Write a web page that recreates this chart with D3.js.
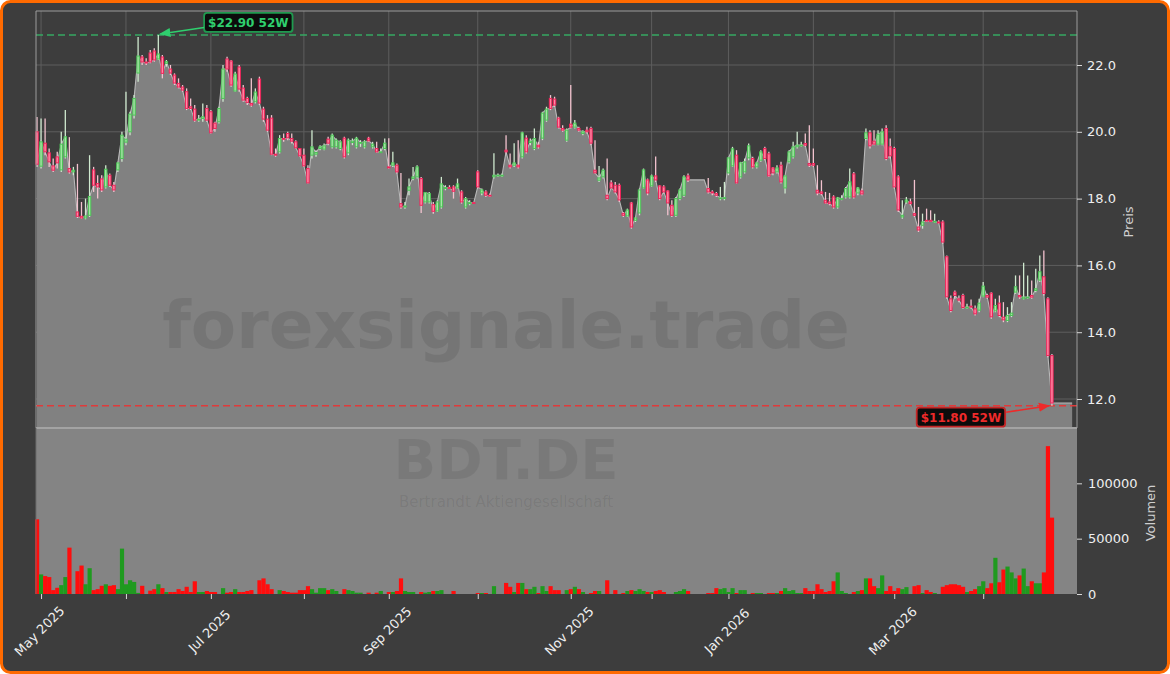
<!DOCTYPE html>
<html><head><meta charset="utf-8">
<script src="https://cdn.jsdelivr.net/npm/d3@7/dist/d3.min.js"></script>
<style>
html,body{margin:0;padding:0;background:#ffffff;}
svg{display:block;font-family:"DejaVu Sans",Verdana,sans-serif;}
</style></head><body>
<svg id="chart" width="1170" height="674"></svg>
<script>
// ---------------- DATA ----------------
const startDate = "2025-04-30";
const holidays = ["2025-05-01","2025-12-24","2025-12-25","2025-12-26","2025-12-31","2026-01-01","2026-04-03","2026-04-06"];
const monthLabels = ["May 2025","Jul 2025","Sep 2025","Nov 2025","Jan 2026","Mar 2026"];
const priceTicks = [12,14,16,18,20,22];
const volumeTicks = [0,50000,100000];
const watermark = "forexsignale.trade";
const tickerName = "BDT.DE";
const companyName = "Bertrandt Aktiengesellschaft";

const openP = [
20.00,18.97,19.66,19.37,18.98,19.25,18.86,19.25,18.90,18.80,
17.60,17.47,17.42,17.50,18.86,18.45,18.59,18.35,18.70,18.40,
18.86,19.20,19.69,20.00,20.50,21.76,22.24,22.09,22.36,22.42,
22.18,22.24,22.05,21.88,21.70,21.45,21.34,21.20,20.75,20.68,
20.35,20.40,20.70,20.60,20.26,20.30,21.00,22.18,22.12,21.22,
21.94,21.31,21.00,20.85,20.90,21.58,20.68,20.38,20.41,19.33,
19.40,19.80,19.95,19.80,19.70,19.50,19.30,18.90,19.30,19.33,
19.50,19.48,19.78,19.55,19.55,19.50,19.81,19.37,19.68,19.55,
19.66,19.55,19.81,19.55,19.50,19.40,19.50,18.95,19.00,19.00,
17.85,17.75,18.25,18.60,18.65,18.60,17.90,17.90,17.82,17.63,
17.75,18.30,18.33,18.35,18.32,18.20,17.75,17.85,17.88,18.80,
18.17,18.20,18.10,18.65,18.70,18.70,19.45,19.00,19.00,19.00,
19.25,19.81,19.68,19.50,19.60,19.81,20.35,21.00,20.98,20.41,
20.10,19.75,20.23,20.14,20.10,19.95,20.05,20.10,18.85,18.55,
18.65,18.10,18.47,18.40,18.40,17.56,17.48,17.87,17.35,17.57,
18.32,18.56,18.38,18.68,18.38,18.35,18.23,17.80,17.50,18.00,
18.10,18.68,18.56,18.56,18.56,18.56,18.30,18.20,18.15,18.00,
18.00,18.77,18.98,19.30,18.65,18.80,19.22,19.20,18.95,19.15,
19.50,19.34,18.92,18.80,19.00,18.32,19.10,19.25,19.55,19.60,
19.65,19.05,19.05,18.25,18.20,17.95,17.90,18.05,17.75,18.00,
18.05,18.05,18.74,18.17,18.23,19.80,19.97,19.72,19.63,19.63,
20.10,19.55,19.50,18.65,17.45,17.90,17.90,17.55,17.15,17.20,
17.35,17.35,17.30,17.30,17.30,16.26,15.00,15.20,15.00,15.10,
14.75,14.78,14.70,14.66,15.08,15.10,15.17,14.64,14.87,14.45,
14.35,14.50,15.20,15.10,15.00,15.05,15.10,15.25,15.56,15.66,
15.00,13.30];

const highP = [
20.44,20.40,20.40,19.50,19.20,19.40,20.00,20.65,19.84,18.95,
19.04,17.90,18.00,19.30,18.95,18.70,18.70,19.00,18.75,18.50,
19.10,20.00,21.20,20.60,21.10,22.84,22.30,22.20,22.45,22.50,
22.90,22.30,22.15,22.00,21.75,21.60,21.40,21.30,21.00,20.80,
20.50,20.85,20.80,20.65,20.30,20.75,22.00,22.25,22.15,21.80,
22.00,21.40,21.05,21.60,21.30,21.65,20.75,20.50,20.50,19.50,
19.90,19.95,20.00,19.95,19.75,19.50,19.50,19.00,20.05,19.45,
19.60,19.65,19.85,19.95,19.80,19.75,19.85,19.80,19.80,19.85,
19.75,19.75,19.85,19.70,19.70,19.50,19.80,19.81,19.40,19.05,
18.77,17.90,18.60,18.95,19.00,18.65,18.20,18.20,17.90,17.95,
18.65,18.40,18.40,18.40,18.60,18.25,18.05,17.95,17.90,18.85,
18.30,18.25,18.15,19.36,18.75,18.75,19.90,19.35,19.66,19.75,
20.00,19.90,19.80,20.10,19.70,20.60,20.75,21.10,21.05,20.45,
20.20,20.10,21.40,20.35,20.15,20.05,20.15,20.15,19.75,18.98,
18.90,19.20,18.55,18.50,18.45,17.60,17.70,17.90,17.45,18.30,
18.90,18.60,18.72,19.26,18.40,18.40,18.25,17.95,18.05,18.30,
18.70,18.75,18.56,18.56,18.56,18.56,18.62,18.25,18.20,18.35,
18.50,19.25,19.55,19.45,19.10,19.20,19.65,19.25,19.10,19.45,
19.55,19.40,18.95,19.00,19.10,18.70,19.45,19.70,20.00,19.70,
19.95,20.20,19.50,19.00,18.55,18.20,18.17,18.10,18.05,18.10,
18.35,18.90,18.80,18.35,18.30,20.10,20.05,20.05,20.05,20.10,
20.20,19.80,19.55,18.70,17.95,18.05,18.00,18.56,17.75,17.55,
17.70,17.65,17.55,17.35,17.35,16.30,15.10,15.25,15.10,15.15,
14.85,14.98,14.80,15.00,15.50,15.15,15.20,15.00,15.10,14.90,
14.75,14.90,15.70,15.70,16.08,15.70,15.55,15.90,16.30,16.45,
15.05,13.35];

const lowP = [
18.95,18.90,19.30,18.95,18.80,18.90,18.80,19.20,18.75,18.70,
17.42,17.40,17.38,17.45,18.20,18.00,18.20,18.30,18.35,18.20,
18.80,19.10,19.60,19.90,20.40,21.50,22.00,22.00,22.05,22.10,
22.15,21.60,21.95,21.70,21.40,21.30,21.20,20.65,20.65,20.30,
20.30,20.30,20.30,19.95,20.00,20.25,20.90,21.80,21.35,21.20,
21.20,20.90,20.80,20.75,20.85,20.80,20.30,20.00,19.30,19.25,
19.35,19.70,19.75,19.65,19.50,19.25,18.95,18.45,19.20,19.25,
19.45,19.45,19.60,19.50,19.50,19.45,19.20,19.30,19.60,19.50,
19.55,19.50,19.70,19.50,19.38,19.38,19.45,18.90,18.95,18.75,
17.70,17.70,18.10,18.55,18.60,17.57,17.85,17.85,17.55,17.60,
17.70,18.25,18.30,18.00,18.30,17.85,17.70,17.80,17.85,18.30,
18.10,18.05,18.05,18.60,18.65,18.65,19.35,18.90,18.95,18.90,
19.20,19.35,19.60,19.45,19.50,19.75,20.30,20.65,20.75,20.10,
20.00,19.70,20.10,20.10,20.00,19.90,19.95,19.60,18.75,18.50,
18.60,17.95,18.30,18.15,17.90,17.45,17.45,17.10,17.30,17.50,
18.30,18.10,18.35,18.50,17.95,18.15,17.50,17.45,17.45,17.95,
18.05,18.50,18.56,18.56,18.56,18.56,18.15,18.10,18.05,17.95,
17.95,18.70,18.95,18.45,18.60,18.75,19.15,18.90,18.90,19.10,
19.15,18.65,18.70,18.75,18.45,18.15,19.05,19.20,19.50,19.55,
19.55,18.95,18.95,18.10,18.10,17.85,17.80,17.70,17.70,17.95,
18.00,18.00,18.00,18.10,18.10,19.75,19.50,19.60,19.60,19.60,
19.15,19.20,18.30,17.60,17.40,17.85,17.80,17.45,17.00,17.10,
17.30,17.30,17.28,17.25,16.65,15.00,14.60,15.00,14.90,14.70,
14.70,14.70,14.50,14.60,15.05,15.00,14.40,14.60,14.45,14.30,
14.30,14.45,15.15,15.00,14.98,15.00,15.00,15.20,15.50,15.10,
13.25,11.80];

const closeP = [
19.03,19.70,19.40,19.10,18.85,19.07,19.63,19.85,18.80,18.85,
17.47,17.42,17.48,18.06,18.40,18.35,18.26,18.88,18.40,18.26,
19.07,19.90,19.78,20.53,21.00,22.27,22.09,22.06,22.09,22.15,
22.33,21.75,22.10,21.76,21.46,21.34,21.25,20.70,20.70,20.35,
20.38,20.45,20.35,19.97,20.10,20.70,21.88,21.88,21.40,21.73,
21.28,20.95,20.88,20.80,21.19,20.86,20.38,20.05,19.33,19.30,
19.80,19.78,19.82,19.72,19.52,19.28,18.98,18.47,19.55,19.38,
19.55,19.58,19.66,19.90,19.75,19.70,19.25,19.75,19.72,19.81,
19.68,19.70,19.73,19.63,19.40,19.40,19.66,18.92,19.07,18.80,
17.75,17.78,18.35,18.65,18.95,17.80,18.18,18.15,17.62,17.90,
18.44,18.33,18.32,18.22,18.44,17.90,18.00,17.88,17.87,18.35,
18.26,18.10,18.08,18.70,18.70,18.70,19.40,18.95,19.07,18.95,
19.97,19.40,19.72,19.80,19.55,20.56,20.68,20.70,20.80,20.14,
20.05,20.05,20.14,20.26,20.05,20.00,20.00,19.66,18.77,18.62,
18.85,18.00,18.32,18.20,17.96,17.50,17.66,17.15,17.42,18.26,
18.86,18.17,18.68,18.56,18.00,18.20,17.87,17.50,18.00,18.26,
18.65,18.56,18.56,18.56,18.56,18.56,18.20,18.17,18.10,18.02,
18.03,19.22,19.49,18.47,19.07,19.10,19.58,18.95,19.07,19.40,
19.20,18.68,18.77,18.92,18.50,18.68,19.40,19.55,19.60,19.60,
19.60,19.00,19.00,18.17,18.15,17.87,17.85,17.75,18.02,18.00,
18.30,18.50,18.05,18.32,18.14,19.97,19.58,19.63,19.93,20.00,
19.20,19.28,18.35,17.66,17.50,17.96,17.85,17.50,17.06,17.30,
17.33,17.32,17.32,17.27,16.70,15.06,14.65,15.10,14.96,14.74,
14.75,14.75,14.55,14.87,15.38,15.05,14.46,14.80,14.50,14.37,
14.50,14.57,15.36,15.06,15.05,15.05,15.05,15.30,15.81,15.16,
13.30,11.88];

const volume = [
67500,17700,16200,15300,3500,5600,8000,15300,41900,0,
20600,25700,8800,23300,3500,4400,7400,8800,7400,8000,
4400,41000,8800,12400,10900,1000,7400,0,3000,4400,
8800,5300,1800,1800,1800,4400,2700,6500,1800,11500,
1800,1800,2700,1800,1800,0,5300,1200,1800,4400,
1800,1800,2700,3500,0,12400,14100,8800,4400,0,
3500,2700,1800,1200,1200,3500,3500,7100,4400,1200,
5300,5300,3500,4400,2700,0,4400,3500,2700,1200,
1200,0,1200,0,1200,2700,0,1800,1800,2700,
14100,2700,1800,1800,0,1800,1200,1800,2700,2700,
3500,0,0,2700,0,0,0,0,0,900,
900,900,0,7100,0,0,10000,6500,1800,10000,
10000,4400,4400,6500,900,7100,2700,7100,3500,3500,
0,3500,4400,6500,4400,1800,0,900,2700,2700,
0,12400,0,3500,0,900,2700,3500,2700,4400,
2700,1800,1800,2700,3500,1800,0,0,1800,2700,
4400,2700,0,0,0,0,900,900,5300,4400,
5300,1800,5300,900,3500,3500,0,900,900,900,
0,900,900,900,2700,5300,2700,3500,900,900,
5300,2700,2700,8800,4400,1800,2700,11500,19500,2700,
900,0,1800,2700,3500,14100,14100,7100,5300,16800,
2700,7100,2700,5300,4400,6200,0,7100,8000,900,
3500,1800,900,0,6500,8000,8800,8800,8000,6500,
1800,2700,4400,7100,11500,5300,9700,32700,10600,22100,
24800,19500,14100,16800,23000,7100,11500,9700,9700,19500,
133600,69000];

// ---------------- CALENDAR ----------------
const N = closeP.length;
const fmtDay = d3.timeFormat("%Y-%m-%d");
const fmtMonth = d3.timeFormat("%b %Y");
function tradingDays(start, n, hol) {
  const set = new Set(hol);
  const out = [];
  const d = new Date(start + "T12:00:00");
  while (out.length < n) {
    const wd = d.getDay();
    if (wd !== 0 && wd !== 6 && !set.has(fmtDay(d))) out.push(new Date(d));
    d.setDate(d.getDate() + 1);
  }
  return out;
}
const dates = tradingDays(startDate, N, holidays);
const monthStarts = [];
for (let i = 1; i < N; i++) if (dates[i].getMonth() !== dates[i-1].getMonth()) monthStarts.push(i);

// ---------------- LAYOUT ----------------
const W = 1170, H = 674;
const L = 36, R = 1077, pTop = 11, pBot = 428, vBot = 594;
const svg = d3.select("#chart");

const x = d3.scaleLinear().domain([-0.25, N + 5.2]).range([L, R]);
const yP = d3.scaleLinear().domain([11.132, 23.617]).range([pBot, pTop]);
const yV = d3.scaleLinear().domain([0, 150000]).range([vBot, pBot]);
const step = x(1) - x(0);

const high52 = d3.max(highP), low52 = d3.min(lowP);
const iHigh = highP.indexOf(high52), iLow = lowP.indexOf(low52);

// background + orange frame
svg.append("rect").attr("x",1.5).attr("y",1.5).attr("width",W-3).attr("height",H-3)
  .attr("rx",9).attr("fill","#3d3d3d").attr("stroke","#ff6a00").attr("stroke-width",3);

// grid (price panel)
const grid = svg.append("g");
grid.selectAll(".hg").data(priceTicks).join("line")
  .attr("x1",L).attr("x2",R).attr("y1",d=>yP(d)).attr("y2",d=>yP(d))
  .attr("stroke","#5e5e5e").attr("stroke-width",1);
grid.selectAll(".vg").data(monthStarts).join("line")
  .attr("x1",d=>x(d)).attr("x2",d=>x(d)).attr("y1",pTop).attr("y2",pBot)
  .attr("stroke","#5e5e5e").attr("stroke-width",1);

// area under close
const areaPts = closeP.map((c,i)=>[i,c]).concat([[N+4, closeP[N-1]]]);
svg.append("path").datum(areaPts)
  .attr("d", d3.area().x(d=>x(d[0])).y0(pBot).y1(d=>yP(d[1])))
  .attr("fill","#818181");
svg.append("path").datum(areaPts)
  .attr("d", d3.line().x(d=>x(d[0])).y(d=>yP(d[1])))
  .attr("fill","none").attr("stroke","#b9b9b9").attr("stroke-width",1.1);

// volume panel background
svg.append("rect").attr("x",L).attr("y",pBot).attr("width",R-L).attr("height",vBot-pBot).attr("fill","#848484");

// watermarks
svg.append("text").attr("x",506).attr("y",348).attr("text-anchor","middle")
  .attr("font-size",66).attr("font-weight","bold").attr("fill","#000").attr("fill-opacity",0.09).text(watermark);
svg.append("text").attr("x",506).attr("y",479).attr("text-anchor","middle")
  .attr("font-size",56).attr("font-weight","bold").attr("fill","#000").attr("fill-opacity",0.08).text(tickerName);
svg.append("text").attr("x",506).attr("y",507).attr("text-anchor","middle")
  .attr("font-size",15).attr("fill","#000").attr("fill-opacity",0.08).text(companyName);

// 52W lines
svg.append("line").attr("x1",L).attr("x2",R).attr("y1",yP(high52)).attr("y2",yP(high52))
  .attr("stroke","#36a862").attr("stroke-width",1.6).attr("stroke-dasharray","7,4");
svg.append("line").attr("x1",L).attr("x2",R).attr("y1",yP(low52)).attr("y2",yP(low52))
  .attr("stroke","#e03a3a").attr("stroke-width",1.6).attr("stroke-dasharray","7,4");

// candles
const idx = d3.range(N);
const up = i => closeP[i] >= openP[i];
const cg = svg.append("g");
cg.selectAll(".wick").data(idx).join("line")
  .attr("x1",i=>x(i)).attr("x2",i=>x(i))
  .attr("y1",i=>yP(highP[i])).attr("y2",i=>yP(lowP[i]))
  .attr("stroke",i=>up(i)?"#cfe9cf":"#f3c3cf").attr("stroke-width",1.3);
cg.selectAll(".body").data(idx.filter(i=>highP[i]!==lowP[i])).join("rect")
  .attr("x",i=>x(i)-1.2).attr("width",2.4)
  .attr("y",i=>yP(Math.max(openP[i],closeP[i])))
  .attr("height",i=>Math.max(0.8, yP(Math.min(openP[i],closeP[i])) - yP(Math.max(openP[i],closeP[i]))))
  .attr("fill",i=>up(i)?"#a6e4a6":"#ff8aa6")
  .attr("stroke",i=>up(i)?"#4cc456":"#f0245a").attr("stroke-width",1);

// volume bars
svg.append("g").selectAll("rect").data(idx.filter(i=>volume[i]>0)).join("rect")
  .attr("x",i=>x(i)-step/2).attr("width",step+0.15)
  .attr("y",i=>yV(volume[i])).attr("height",i=>vBot-yV(volume[i]))
  .attr("fill",i=>up(i)?"#1f9a1f":"#ff0d0d");

// separator and spines
svg.append("line").attr("x1",L).attr("x2",R).attr("y1",pBot).attr("y2",pBot).attr("stroke","#a3a3a3").attr("stroke-width",2);
svg.append("path").attr("d",`M${L},${pBot}V${pTop}H${R}V${pBot}`).attr("fill","none").attr("stroke","#9c9c9c").attr("stroke-width",1);
svg.append("line").attr("x1",L).attr("x2",L).attr("y1",pBot).attr("y2",vBot).attr("stroke","#6c6c6c").attr("stroke-width",1);

// axes
function styleAxis(g) {
  g.select(".domain").remove();
  g.selectAll(".tick line").attr("stroke","#d8d8d8").attr("stroke-width",1);
  g.selectAll(".tick text").attr("fill","#efefef").attr("font-size",13).attr("font-family","DejaVu Sans, sans-serif");
}
const axP = svg.append("g").attr("transform",`translate(${R},0)`)
  .call(d3.axisRight(yP).tickValues(priceTicks).tickFormat(d3.format(".1f")).tickSize(5).tickPadding(5));
styleAxis(axP);
const axV = svg.append("g").attr("transform",`translate(${R},0)`)
  .call(d3.axisRight(yV).tickValues(volumeTicks).tickFormat(d3.format("d")).tickSize(5).tickPadding(6));
styleAxis(axV);
const axX = svg.append("g").attr("transform",`translate(0,${vBot})`)
  .call(d3.axisBottom(x).tickValues(monthStarts)
    .tickFormat(i => { const s = fmtMonth(dates[i]); return monthLabels.includes(s) ? s : ""; })
    .tickSize(5));
styleAxis(axX);
axX.selectAll(".tick text").attr("y",0).attr("dy","0.35em").attr("text-anchor","middle")
  .attr("transform","translate(-2,37) rotate(-45)");

// axis titles
svg.append("text").attr("transform","translate(1133,222) rotate(-90)").attr("text-anchor","middle")
  .attr("font-size",13).attr("fill","#cfcfcf").text("Preis");
svg.append("text").attr("transform","translate(1155,513) rotate(-90)").attr("text-anchor","middle")
  .attr("font-size",13).attr("fill","#cfcfcf").text("Volumen");

// annotations
svg.append("defs").html(`
<marker id="ahG" viewBox="0 0 10 10" refX="9" refY="5" markerWidth="7" markerHeight="7" orient="auto"><path d="M0,1L10,5L0,9z" fill="#2fcf6e"/></marker>
<marker id="ahR" viewBox="0 0 10 10" refX="9" refY="5" markerWidth="7" markerHeight="7" orient="auto"><path d="M0,1L10,5L0,9z" fill="#ee2a2a"/></marker>`);

function annotate(px, py, cx, cy, label, txtCol, edgeCol, marker, fromLeft) {
  const g = svg.append("g");
  const t = g.append("text").attr("x",cx).attr("y",cy).attr("text-anchor","middle").attr("dy","0.36em")
    .attr("font-size",12).attr("font-weight","bold").attr("fill",txtCol).text(label);
  const bb = t.node().getBBox();
  const bx = bb.x - 4, by = cy - 9.5, bw = bb.width + 8, bh = 19;
  g.insert("rect","text").attr("x",bx).attr("y",by).attr("width",bw).attr("height",bh).attr("rx",3)
    .attr("fill","#0c0c0c").attr("stroke",edgeCol).attr("stroke-width",1.8);
  const sx = fromLeft ? bx : bx + bw + 1;
  const sy = fromLeft ? cy + 5 : cy - 5;
  svg.append("line").attr("x1",sx).attr("y1",sy).attr("x2",px).attr("y2",py)
    .attr("stroke",txtCol).attr("stroke-width",1.6).attr("marker-end",`url(#${marker})`);
}
annotate(x(iHigh)+2, yP(high52)-1, x(iHigh)+90, yP(high52)-12.5, "$22.90 52W", "#2fcf6e", "#1f9a4f", "ahG", true);
annotate(x(iLow)-3, yP(low52), x(iLow)-91, yP(low52)+11.5, "$11.80 52W", "#ee2a2a", "#c42626", "ahR", false);
</script>
</body></html>
